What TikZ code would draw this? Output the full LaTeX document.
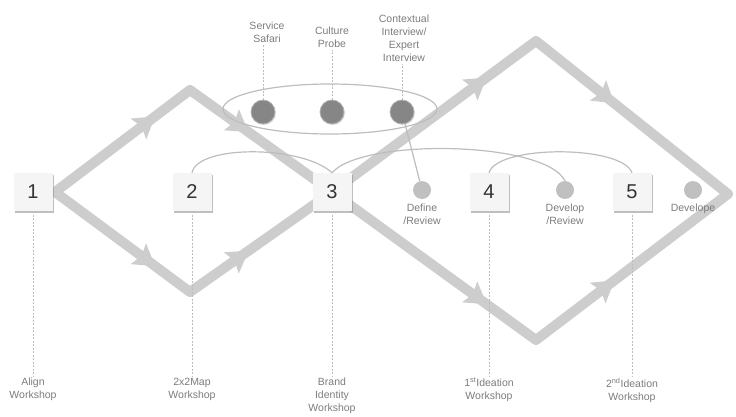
\documentclass[tikz,border=0pt]{standalone}
\usepackage{fontspec}
\setmainfont{Liberation Sans}
\usetikzlibrary{positioning,decorations.markings,shadows}

\definecolor{flowgray}{HTML}{CDCDCD}
\definecolor{linegray}{HTML}{BDBDBD}
\definecolor{textgray}{HTML}{7C7C7C}
\definecolor{dotdark}{HTML}{868686}
\definecolor{dotlight}{HTML}{C0C0C0}

\tikzset{
  flow/.style={flowgray, line width=10pt, line cap=round},
  tip at/.style={postaction={decorate}, decoration={markings,
    mark=at position #1 with {\fill[flowgray] (2pt,0) -- (-19pt,13pt) -- (-15pt,0) -- (-19pt,-13pt) -- cycle;}}},
  stagebox/.style={fill=black!4, minimum width=39pt, minimum height=38pt, inner sep=0pt,
    text=black!80, font=\fontsize{20}{20}\selectfont,
    drop shadow={shadow xshift=1.6pt, shadow yshift=-1.6pt, opacity=0.5}},
  method/.style={circle, fill=dotdark, draw=black!30, line width=0.8pt, minimum size=24pt,
    inner sep=0pt, drop shadow={shadow xshift=1pt, shadow yshift=-1pt, opacity=0.25}},
  review/.style={circle, fill=dotlight, minimum size=18pt, inner sep=0pt},
  caption/.style={text=textgray, align=center, inner sep=2pt,
    font=\fontsize{10.5}{13}\selectfont},
  link/.style={linegray, line width=1.2pt},
  guide/.style={linegray, line width=0.7pt, dash pattern=on 2pt off 1.5pt},
}

\begin{document}
\begin{tikzpicture}[x=1pt, y=1pt]
  \useasboundingbox (0,0) rectangle (736,416);

  % corners of the two diamonds
  \coordinate (start) at (55,224);
  \coordinate (d1top) at (190,326);
  \coordinate (d1bot) at (190,124);
  \coordinate (mid) at (332,224);
  \coordinate (d2top) at (536,375);
  \coordinate (d2bot) at (536,76);
  \coordinate (d2end) at (728,222);

  \foreach \a/\b/\p in {start/d1top/0.73, start/d1bot/0.73, d1top/mid/0.4, d1bot/mid/0.4,
                        mid/d2top/0.75, mid/d2bot/0.75, d2top/d2end/0.4, d2bot/d2end/0.4}
    \draw[flow, tip at=\p] (\a) -- (\b);

  % research methods
  \draw[link] (330,307) ellipse (107 and 25);
  \node[method] (safari) at (263,304) {};
  \node[method] (probe) at (332,304) {};
  \node[method] (interview) at (402,304) {};
  \node[caption, anchor=south] (safarilab) at (267,371) {Service\\Safari};
  \node[caption, anchor=south] (probelab) at (332,366) {Culture\\Probe};
  \node[caption, anchor=south] (interviewlab) at (404,352) {Contextual\\Interview/\\Expert\\Interview};
  \draw[guide] (safari.north) -- (safari.north |- safarilab.south);
  \draw[guide] (probe.north) -- (probe.north |- probelab.south);
  \draw[guide] (interview.north) -- (interview.north |- interviewlab.south);

  % reviews
  \node[review] (define) at (422,226) {};
  \node[review] (develop) at (565,226) {};
  \node[review] (develope) at (693,226) {};
  \node[caption, below=2pt of define] {Define\\/Review};
  \node[caption, below=2pt of develop] {Develop\\/Review};
  \node[caption, below=2pt of develope] {Develope};

  % workshops
  \foreach \n/\x in {1/33, 2/192, 3/332, 4/489, 5/632}
    \node[stagebox] (box\n) at (\x,224) {\n};

  \node[caption, anchor=north] (ws1) at (33,40) {Align\\Workshop};
  \node[caption, anchor=north] (ws2) at (192,40) {2x2Map\\Workshop};
  \node[caption, anchor=north] (ws3) at (332,40) {Brand\\Identity\\Workshop};
  \node[caption, anchor=north] (ws4) at (489,40) {1\textsuperscript{st}Ideation\\Workshop};
  \node[caption, anchor=north] (ws5) at (632,40) {2\textsuperscript{nd}Ideation\\Workshop};
  \foreach \n in {1,...,5}
    \draw[guide] (box\n) -- (ws\n);

  \draw[link] (box2.north) .. controls +(5,28) and +(-30,28) .. (box3.north);
  \draw[link] (box3.north) .. controls +(30,35) and +(-20,40) .. (develop.north);
  \draw[link] (box4.north) .. controls +(8,28) and +(-10,28) .. (box5.north);
  \draw[link] (interview) -- (define);
\end{tikzpicture}
\end{document}
